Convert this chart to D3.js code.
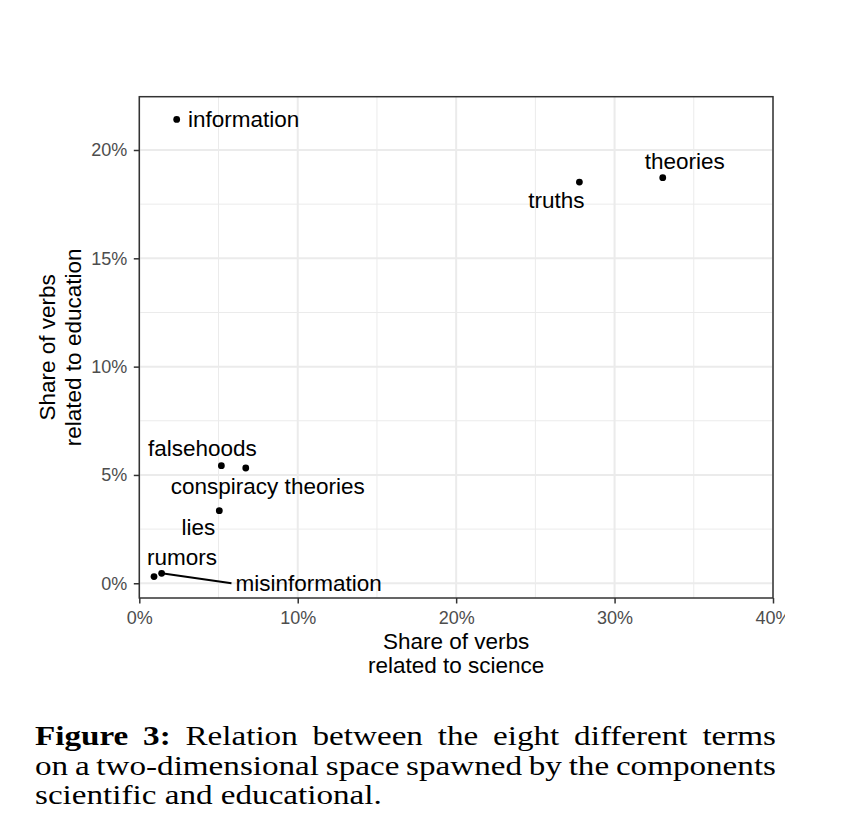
<!DOCTYPE html>
<html>
<head>
<meta charset="utf-8">
<script src="https://cdn.jsdelivr.net/npm/d3@7"></script>
<style>
  body { margin: 0; background: #fff; }
  svg { display: block; }
</style>
</head>
<body>
<div id="chart"></div>
<script>
// Data
const terms = ["information", "truths", "theories", "falsehoods",
    "conspiracy theories", "lies", "rumors", "misinformation"];
const science = [0.0236, 0.2778, 0.3304, 0.0518, 0.0672, 0.0505, 0.0093, 0.0141];
const education = [0.2141, 0.1852, 0.1872, 0.0543, 0.0532, 0.0335, 0.0031, 0.0046];

const xTicks = [0, 0.1, 0.2, 0.3, 0.4];
const yTicks = [0, 0.05, 0.1, 0.15, 0.2];
const xMinor = [0.05, 0.15, 0.25, 0.35];
const yMinor = [0.025, 0.075, 0.125, 0.175];

// label placement (repel-like), pixel offsets from the point: [dx, dy]
const labelOffsets = {
    "information": [67, 8],
    "truths": [-23, 26],
    "theories": [22, -9],
    "falsehoods": [-19, -10],
    "conspiracy theories": [22, 26],
    "lies": [-21, 24],
    "rumors": [28, -12],
    "misinformation": [147, 18]
};
const segmentTerms = ["misinformation"];

const captionLines = [
    { bold: "Figure 3:", text: " Relation between the eight different terms", justify: true },
    { bold: "", text: "on a two-dimensional space spawned by the components", justify: true },
    { bold: "", text: "scientific and educational.", justify: false }
];

const svgWidth = 846;
const svgHeight = 840;
const panel = { left: 139.3, right: 773, top: 96.7, bottom: 598 };
const sans = "'Liberation Sans', Arial, Helvetica, sans-serif";

const svg = d3.select("#chart")
    .append("svg")
    .attr("width", svgWidth)
    .attr("height", svgHeight);

svg.append("rect")
    .attr("width", svgWidth)
    .attr("height", svgHeight)
    .attr("fill", "#fff");

// the original figure is cropped just right of the "40%" label
svg.append("clipPath")
    .attr("id", "fig-clip")
    .append("rect")
    .attr("x", 0).attr("y", 0)
    .attr("width", 785).attr("height", 700);

const g = svg.append("g").attr("clip-path", "url(#fig-clip)");

const xScale = d3.scaleLinear()
    .domain([0, 0.4])
    .range([panel.left, panel.right]);

const yScale = d3.scaleLinear()
    .domain([-0.0068, 0.2246])
    .range([panel.bottom, panel.top]);

// Grid lines
const grid = g.append("g");
grid.selectAll(".xminor").data(xMinor).enter().append("line")
    .attr("x1", d => xScale(d)).attr("x2", d => xScale(d))
    .attr("y1", panel.top).attr("y2", panel.bottom)
    .attr("stroke", "#ebebeb").attr("stroke-width", 1);
grid.selectAll(".yminor").data(yMinor).enter().append("line")
    .attr("x1", panel.left).attr("x2", panel.right)
    .attr("y1", d => yScale(d)).attr("y2", d => yScale(d))
    .attr("stroke", "#ebebeb").attr("stroke-width", 1);
grid.selectAll(".xmajor").data(xTicks).enter().append("line")
    .attr("x1", d => xScale(d)).attr("x2", d => xScale(d))
    .attr("y1", panel.top).attr("y2", panel.bottom)
    .attr("stroke", "#ebebeb").attr("stroke-width", 2);
grid.selectAll(".ymajor").data(yTicks).enter().append("line")
    .attr("x1", panel.left).attr("x2", panel.right)
    .attr("y1", d => yScale(d)).attr("y2", d => yScale(d))
    .attr("stroke", "#ebebeb").attr("stroke-width", 2);

// Axes
const fmt = d3.format(".0%");
const xAxis = d3.axisBottom(xScale).tickValues(xTicks).tickFormat(fmt)
    .tickSize(5.5).tickPadding(7.5).tickSizeOuter(0);
const yAxis = d3.axisLeft(yScale).tickValues(yTicks).tickFormat(fmt)
    .tickSize(5.5).tickPadding(6.5).tickSizeOuter(0);

const gx = g.append("g")
    .attr("transform", `translate(0, ${panel.bottom})`)
    .call(xAxis);
const gy = g.append("g")
    .attr("transform", `translate(${panel.left}, 0)`)
    .call(yAxis);

[gx, gy].forEach(ax => {
    ax.select(".domain").remove();
    ax.selectAll(".tick line").attr("stroke", "#333").attr("stroke-width", 1.5);
    ax.selectAll(".tick text")
        .attr("fill", "#4d4d4d")
        .style("font-family", sans)
        .style("font-size", "18px");
});

// Panel border
g.append("rect")
    .attr("x", panel.left).attr("y", panel.top)
    .attr("width", panel.right - panel.left)
    .attr("height", panel.bottom - panel.top)
    .attr("fill", "none")
    .attr("stroke", "#333")
    .attr("stroke-width", 1.5);

// Points and labels
const points = terms.map((term, i) => ({ term, x: science[i], y: education[i] }));

const labels = g.append("g")
    .style("font-family", sans)
    .style("font-size", "22.5px")
    .attr("fill", "#000");

points.forEach(d => {
    const [dx, dy] = labelOffsets[d.term];
    const px = xScale(d.x);
    const py = yScale(d.y);
    const t = labels.append("text")
        .attr("x", px + dx)
        .attr("y", py + dy)
        .attr("text-anchor", "middle")
        .text(d.term);

    if (segmentTerms.includes(d.term)) {
        const box = t.node().getBBox();
        g.append("line")
            .attr("x1", px).attr("y1", py)
            .attr("x2", box.x - 4)
            .attr("y2", py + dy - 8)
            .attr("stroke", "#000")
            .attr("stroke-width", 2);
    }
});

g.selectAll(".dot")
    .data(points)
    .enter()
    .append("circle")
    .attr("cx", d => xScale(d.x))
    .attr("cy", d => yScale(d.y))
    .attr("r", 3.4)
    .attr("fill", "#000");

// Axis titles
const xTitle = g.append("text")
    .attr("text-anchor", "middle")
    .style("font-family", sans)
    .style("font-size", "22.5px");
xTitle.append("tspan").attr("x", (panel.left + panel.right) / 2).attr("y", 649).text("Share of verbs");
xTitle.append("tspan").attr("x", (panel.left + panel.right) / 2).attr("y", 673).text("related to science");

const yMid = (panel.top + panel.bottom) / 2;
g.append("text")
    .attr("text-anchor", "middle")
    .attr("transform", `translate(55, ${yMid}) rotate(-90)`)
    .style("font-family", sans)
    .style("font-size", "22.5px")
    .text("Share of verbs");
g.append("text")
    .attr("text-anchor", "middle")
    .attr("transform", `translate(81, ${yMid}) rotate(-90)`)
    .style("font-family", sans)
    .style("font-size", "22.5px")
    .text("related to education");

// Caption, justified like the LaTeX source.
// Times is narrower than Computer Modern, so the caption is stretched
// horizontally until the last (ragged) line has the original width.
const capLeft = 35;
const capRight = 776;
const lastLineWidth = 347;
const capBaselines = [745, 775, 804];

const cap = svg.append("g");
const capTexts = captionLines.map((line, i) => {
    const t = cap.append("text")
        .attr("x", 0)
        .attr("y", capBaselines[i])
        .style("font-family", "'Liberation Serif', 'Times New Roman', serif")
        .style("font-size", "27.5px")
        .attr("fill", "#000");
    if (line.bold) t.append("tspan").style("font-weight", "bold").text(line.bold);
    t.append("tspan").text(line.text);
    return t;
});

const sx = lastLineWidth / capTexts[2].node().getComputedTextLength();
cap.attr("transform", `translate(${capLeft}, 0) scale(${sx}, 1)`);

captionLines.forEach((line, i) => {
    if (!line.justify) return;
    const t = capTexts[i];
    const natural = t.node().getComputedTextLength();
    const spaces = ((line.bold + line.text).match(/ /g) || []).length;
    const target = (capRight - capLeft) / sx;
    t.style("word-spacing", ((target - natural) / spaces) + "px");
});
</script>
</body>
</html>
